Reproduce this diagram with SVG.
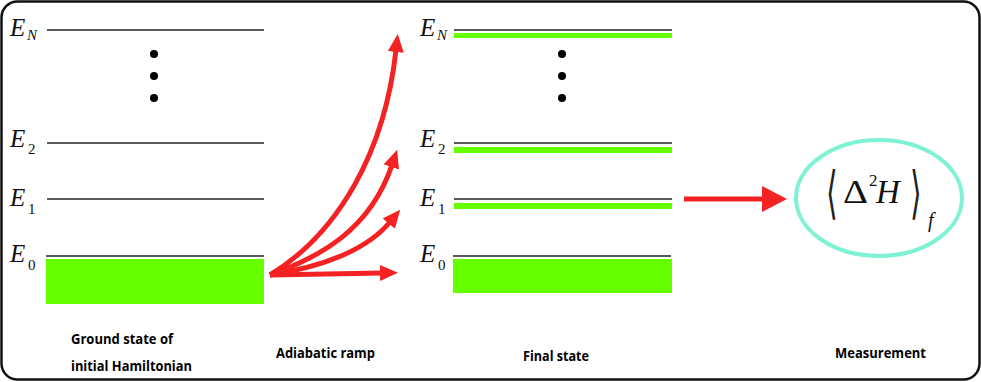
<svg xmlns="http://www.w3.org/2000/svg" width="981" height="382" viewBox="0 0 981 382">
<defs>
<style>
.lvl{stroke:#222;stroke-width:1.6;fill:none}
.grn{fill:#66ff00}
.E{font-family:"Liberation Serif",serif;font-style:italic;font-size:25px;fill:#111}
.sub{font-family:"Liberation Serif",serif;font-size:15px;fill:#111}
.subi{font-family:"Liberation Serif",serif;font-style:italic;font-size:15px;fill:#111}
.cap{font-family:"Open Sans","Liberation Sans",sans-serif;font-weight:bold;font-size:13.5px;fill:#000}
.arr{stroke:#f42222;stroke-width:5;fill:none}
.math{font-family:"Liberation Serif",serif;fill:#111}
.br{font-family:"DejaVu Serif",serif;font-size:30px;fill:#222}
</style>
<marker id="head" markerUnits="userSpaceOnUse" markerWidth="20" markerHeight="18" refX="2" refY="8" orient="auto">
<path d="M0,0 L18,8 L0,16 z" fill="#f42222"/>
</marker>
<marker id="bighead" markerUnits="userSpaceOnUse" markerWidth="28" markerHeight="28" refX="1" refY="13" orient="auto">
<path d="M0,0 L25,13 L0,26 z" fill="#f42222"/>
</marker>
</defs>
<rect x="1.5" y="1.5" width="978" height="378" rx="16" ry="16" fill="#fff" stroke="#111" stroke-width="2.5"/>

<g id="initial-levels">
<line class="lvl" x1="47" y1="30" x2="264" y2="30"/>
<circle cx="154" cy="54" r="4" fill="#000"/>
<circle cx="154" cy="76" r="4" fill="#000"/>
<circle cx="154" cy="98" r="4" fill="#000"/>
<line class="lvl" x1="47" y1="143" x2="264" y2="143"/>
<line class="lvl" x1="47" y1="199" x2="264" y2="199"/>
<line class="lvl" x1="46" y1="256" x2="264" y2="256"/>
<rect class="grn" x="46" y="259" width="218" height="45"/>
<text class="E" x="10" y="36">E</text><text class="subi" x="27" y="40">N</text>
<text class="E" x="10" y="147">E</text><text class="sub" x="28" y="154">2</text>
<text class="E" x="10" y="206">E</text><text class="sub" x="28" y="214">1</text>
<text class="E" x="10" y="262">E</text><text class="sub" x="28" y="270">0</text>
<text class="cap" x="71" y="344" textLength="102" lengthAdjust="spacingAndGlyphs">Ground state of</text>
<text class="cap" x="71" y="371" textLength="121" lengthAdjust="spacingAndGlyphs">initial Hamiltonian</text>
</g>

<g id="final-levels">
<line class="lvl" x1="454" y1="30" x2="672" y2="30"/>
<rect class="grn" x="454" y="33" width="218" height="5"/>
<circle cx="562" cy="54" r="4" fill="#000"/>
<circle cx="562" cy="76" r="4" fill="#000"/>
<circle cx="562" cy="98" r="4" fill="#000"/>
<line class="lvl" x1="454" y1="143" x2="672" y2="143"/>
<rect class="grn" x="454" y="147" width="218" height="6"/>
<line class="lvl" x1="454" y1="199" x2="672" y2="199"/>
<rect class="grn" x="454" y="203" width="218" height="6"/>
<line class="lvl" x1="453" y1="256" x2="671" y2="256"/>
<rect class="grn" x="453" y="259" width="219" height="34"/>
<text class="E" x="420" y="36">E</text><text class="subi" x="437" y="40">N</text>
<text class="E" x="420" y="147">E</text><text class="sub" x="438" y="154">2</text>
<text class="E" x="420" y="206">E</text><text class="sub" x="438" y="214">1</text>
<text class="E" x="420" y="262">E</text><text class="sub" x="438" y="270">0</text>
<text class="cap" x="523" y="361" textLength="66" lengthAdjust="spacingAndGlyphs">Final state</text>
</g>

<g id="measurement">
<ellipse cx="879" cy="198" rx="83" ry="58" fill="none" stroke="#7ff2d4" stroke-width="4"/>
<text class="br" transform="translate(826,212) scale(1.0,1.9)">⟨</text>
<text class="math" font-size="33" x="843" y="203" textLength="25" lengthAdjust="spacingAndGlyphs">Δ</text>
<text class="math" font-size="17" x="869" y="186">2</text>
<text class="math" font-size="33" font-style="italic" x="876" y="203">H</text>
<text class="br" transform="translate(910,212) scale(1.0,1.9)">⟩</text>
<text class="math" font-size="20" font-style="italic" x="928" y="227">f</text>
<text class="cap" x="835" y="358" textLength="91" lengthAdjust="spacingAndGlyphs">Measurement</text>
</g>

<g id="connectors">
<path class="arr" d="M270,275 C340,232 385,150 396,50" marker-end="url(#head)"/>
<path class="arr" d="M270,275 C320,257 370,230 392,165" marker-end="url(#head)"/>
<path class="arr" d="M270,275 C320,267 365,252 390,222" marker-end="url(#head)"/>
<path class="arr" d="M270,275 L382,273" marker-end="url(#head)"/>
<line class="arr" x1="684" y1="199" x2="763" y2="199" marker-end="url(#bighead)"/>
<text class="cap" x="276" y="358" textLength="99" lengthAdjust="spacingAndGlyphs">Adiabatic ramp</text>
</g>
</svg>
